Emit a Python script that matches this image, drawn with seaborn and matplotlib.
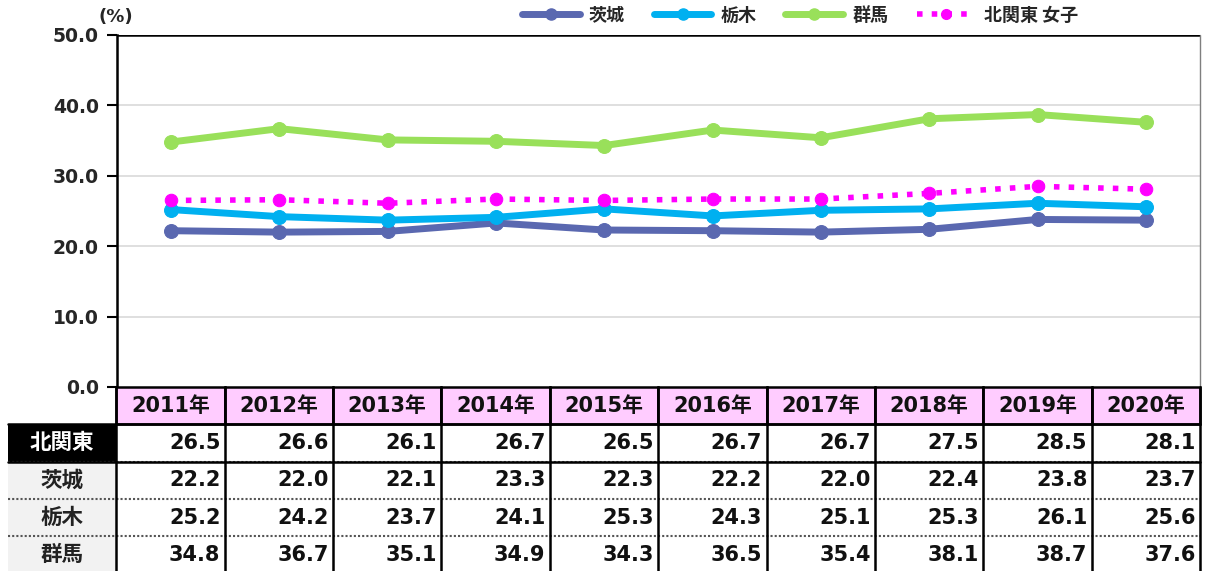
import matplotlib
matplotlib.use('Agg')
import matplotlib.pyplot as plt
import seaborn as sns
import pandas as pd
from matplotlib.patches import Rectangle
from matplotlib.lines import Line2D

# データ
years = ['2011年', '2012年', '2013年', '2014年', '2015年', '2016年', '2017年', '2018年', '2019年', '2020年']
kitakanto = [26.5, 26.6, 26.1, 26.7, 26.5, 26.7, 26.7, 27.5, 28.5, 28.1]
ibaraki = [22.2, 22.0, 22.1, 23.3, 22.3, 22.2, 22.0, 22.4, 23.8, 23.7]
tochigi = [25.2, 24.2, 23.7, 24.1, 25.3, 24.3, 25.1, 25.3, 26.1, 25.6]
gunma = [34.8, 36.7, 35.1, 34.9, 34.3, 36.5, 35.4, 38.1, 38.7, 37.6]
y_ticks = [0, 10, 20, 30, 40, 50]

sns.set_theme(style='white')
plt.rcParams['font.family'] = ['DejaVu Sans', 'Noto Sans CJK JP']
plt.rcParams['font.weight'] = 'bold'

W, H = 1208, 571
fig = plt.figure(figsize=(W / 100, H / 100), dpi=100)

def fx(px):
    return px / W

def fy(py):
    return 1 - py / H

ax = fig.add_axes([fx(117), fy(387), fx(1200) - fx(117), fy(35) - fy(387)])

x = list(range(len(years)))
df = pd.DataFrame({'x': x, '茨城': ibaraki, '栃木': tochigi, '群馬': gunma, '北関東 女子': kitakanto})

styles = [
    ('茨城', '#5A68B0', '-', 5, 10),
    ('栃木', '#00B0F0', '-', 5, 10),
    ('群馬', '#99E05A', '-', 5, 10),
    ('北関東 女子', '#FF00FF', ':', 4, 9),
]
handles = []
for name, col, ls, lw, ms in styles:
    sns.lineplot(data=df, x='x', y=name, ax=ax, color=col, linestyle=ls, linewidth=lw,
                 marker='o', markersize=ms, markeredgecolor=col, legend=False)
    handles.append(Line2D([], [], color=col, linestyle=ls, linewidth=lw, marker='o',
                          markersize=ms - 2, markeredgecolor=col, label=name))

ax.set_xlim(-0.5, len(years) - 0.5)
ax.set_ylim(0, 50)
ax.set_yticks(y_ticks)
ax.set_yticklabels([f'{v:.1f}' for v in y_ticks], fontsize=13.5, fontweight='bold')
ax.set_xticks([])
ax.set_xlabel('')
ax.set_ylabel('')
for v in y_ticks[1:-1]:
    ax.axhline(v, color='#D9D9D9', linewidth=1.2, zorder=0)
for side in ['top', 'right', 'bottom']:
    ax.spines[side].set_visible(False)
ax.spines['left'].set_color('black')
ax.spines['left'].set_linewidth(1.8)
ax.axhline(50, color='black', linewidth=1.8)
ax.plot([1, 1], [0, 1], transform=ax.transAxes, color='#7F7F7F', linewidth=1, clip_on=False)
ax.tick_params(axis='y', which='both', left=True, length=7, width=1.5, color='black', pad=6)
ax.text(-0.017, 1.025, '(%)', transform=ax.transAxes, fontsize=13, fontweight='bold', ha='left', va='bottom')

# 凡例
fig.legend(handles=handles, loc='center', bbox_to_anchor=(fx(800), fy(15)), ncol=4,
           frameon=False, handlelength=3.2, columnspacing=1.6, handletextpad=0.5,
           prop={'family': ['Noto Sans CJK JP'], 'weight': 'bold', 'size': 13})

# 表
row_h = 37.3
tab = fig.add_axes([fx(8), fy(571), fx(1200) - fx(8), fy(387) - fy(571)])
tab.set_xlim(-1.5, len(years) - 0.5)
tab.set_ylim((571 - 387) / row_h, 0)
tab.axis('off')

cjk = ['Noto Sans CJK JP']
num_font = ['DejaVu Sans', 'Noto Sans CJK JP']
rows = [('北関東', kitakanto, 'black', 'white'),
        ('茨城', ibaraki, '#F2F2F2', '#222222'),
        ('栃木', tochigi, '#F2F2F2', '#222222'),
        ('群馬', gunma, '#F2F2F2', '#222222')]

for i, yr in enumerate(years):
    tab.add_patch(Rectangle((i - 0.5, 0), 1, 1, facecolor='#FFCCFF', edgecolor='black', linewidth=1.8, clip_on=False))
    tab.text(i, 0.52, yr, ha='center', va='center', fontsize=15, fontweight='bold', family=num_font, color='#111111')

for r, (name, vals, bg, fg) in enumerate(rows):
    top = 1 + r
    tab.add_patch(Rectangle((-1.5, top), 1, 1, facecolor=bg, edgecolor='none', clip_on=False))
    tab.text(-1, top + 0.5, name, ha='center', va='center', fontsize=15.5, fontweight='bold', family=cjk, color=fg)
    for i, v in enumerate(vals):
        tab.text(i + 0.46, top + 0.5, f'{v:.1f}', ha='right', va='center', fontsize=15, fontweight='bold',
                 family=num_font, color='#111111')
    if r >= 1:
        tab.plot([-1.5, len(years) - 0.5], [top, top], color='#555555', linewidth=1.5,
                 linestyle=(0, (1, 1)), clip_on=False)

# 表の罫線
tab.plot([-1.5, len(years) - 0.5], [2, 2], color='black', linewidth=1.8, clip_on=False)
tab.plot([-1.5, len(years) - 0.5], [1, 1], color='black', linewidth=1.8, clip_on=False)
for i in range(len(years) + 1):
    tab.plot([i - 0.5, i - 0.5], [0, 5], color='black', linewidth=1.8, clip_on=False)

fig.savefig('out.png', dpi=100)
